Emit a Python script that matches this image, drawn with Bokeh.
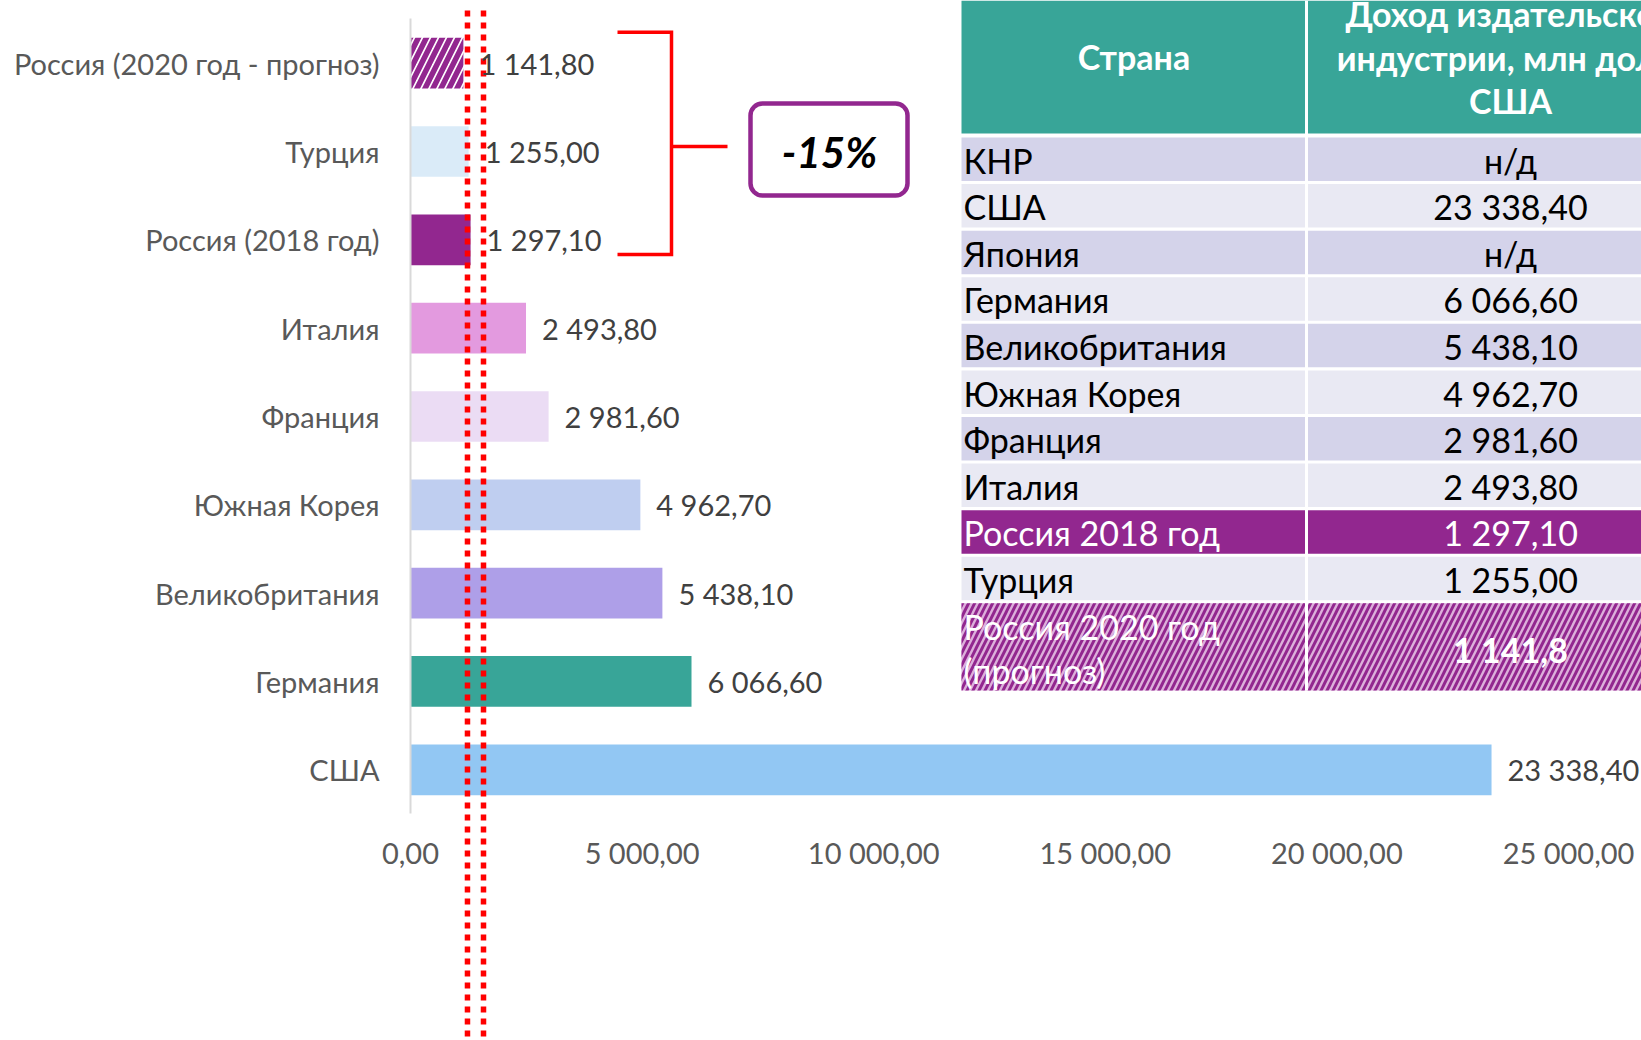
from bokeh.plotting import figure
from bokeh.models import Range1d, FixedTicker, BoxAnnotation
from bokeh.core.properties import value
from bokeh.embed import file_html
from bokeh.resources import INLINE

# ---------------- chart data (bottom -> top) ----------------
countries = ["США", "Германия", "Великобритания", "Южная Корея", "Франция",
             "Италия", "Россия (2018 год)", "Турция", "Россия (2020 год - прогноз)"]
revenue = [23338.40, 6066.60, 5438.10, 4962.70, 2981.60, 2493.80, 1297.10, 1255.00, 1141.80]
bar_colors = ["#92C7F3", "#38A598", "#AE9FE8", "#BFCEF0", "#EBDCF4",
              "#E39ADF", "#92278F", "#DAEBF8", "#FFFFFF"]
hatched = [False, False, False, False, False, False, False, False, True]
x_ticks = [0, 5000, 10000, 15000, 20000, 25000]
x_tick_labels = ["0,00", "5 000,00", "10 000,00", "15 000,00", "20 000,00", "25 000,00"]

# ---------------- table data ----------------
table_header_left = ["Страна"]
table_header_right = ["Доход издательской", "индустрии, млн долл.", "США"]
table_countries = ["КНР", "США", "Япония", "Германия", "Великобритания", "Южная Корея",
                   "Франция", "Италия", "Россия 2018 год", "Турция"]
table_values = ["н/д", "23 338,40", "н/д", "6 066,60", "5 438,10", "4 962,70",
                "2 981,60", "2 493,80", "1 297,10", "1 255,00"]
forecast_name = ["Россия 2020 год", "(прогноз)"]
forecast_value = ["1 141,8"]
change_text = ["-15%"]
marker_values = [1230, 1576]   # hand-drawn dotted reference lines

def fmt(v):
    return f"{v:,.2f}".replace(",", " ").replace(".", ",")

value_labels = [fmt(v) for v in revenue]

# ---------------- geometry ----------------
W, H = 1641, 1040
FONT = "Lato"
PX_PER_UNIT = 1158 / 25000.0
ZERO_X = 410
STEP = 88.33
BASE = 769.3
ys = list(range(len(countries)))
y_start = -(H - BASE) / STEP
y_end = BASE / STEP
axis_loc = -(812.7 - BASE) / STEP
axis_top = (BASE - 17.7) / STEP

p = figure(width=W, height=H, output_backend="svg", toolbar_location=None,
           x_range=Range1d(-ZERO_X / PX_PER_UNIT, (W - ZERO_X) / PX_PER_UNIT),
           y_range=Range1d(y_start, y_end),
           min_border_left=0, min_border_right=0,
           min_border_top=0, min_border_bottom=0)
p.extra_x_ranges = {"px": Range1d(0, W)}
p.extra_y_ranges = {"px": Range1d(H, 0)}
p.outline_line_color = None
p.xgrid.visible = False
p.ygrid.visible = False
p.background_fill_color = "white"

# bars
solid_idx = [i for i in ys if not hatched[i]]
hatch_idx = [i for i in ys if hatched[i]]
p.hbar(y=[ys[i] for i in solid_idx], left=0, right=[revenue[i] for i in solid_idx],
       height=0.574, fill_color=[bar_colors[i] for i in solid_idx], line_color=None)
p.hbar(y=[ys[i] for i in hatch_idx], left=0, right=[revenue[i] for i in hatch_idx],
       height=0.574, fill_color=[bar_colors[i] for i in hatch_idx], line_color=None,
       hatch_pattern="/", hatch_color="#92278F", hatch_scale=16, hatch_weight=5.5)

# dotted red lines
p.segment(x0=marker_values, x1=marker_values, y0=[10] * 2, y1=[1040] * 2,
          y_range_name="px", line_color="#FF0000", line_width=5.5,
          line_dash="6 6", line_cap="butt")

# value labels
p.text(x=revenue, y=ys, text=value_labels, x_offset=16, y_offset=0,
       text_align="left", text_baseline="middle", text_font=value(FONT),
       text_font_size="29px", text_color="#404040")

# axes (drawn at fixed locations inside the full-size frame)
yax = p.yaxis[0]
yax.fixed_location = 0
yax.ticker = FixedTicker(ticks=ys)
yax.major_label_overrides = {i: c for i, c in zip(ys, countries)}
yax.major_label_text_font = FONT
yax.major_label_text_font_size = "29px"
yax.major_label_text_color = "#595959"
yax.major_label_standoff = 31
yax.major_tick_out = 0
yax.major_tick_in = 0
yax.minor_tick_out = 0
yax.minor_tick_in = 0
yax.axis_line_color = "#D9D9D9"
yax.axis_line_width = 2
yax.bounds = (axis_loc, axis_top)

xax = p.xaxis[0]
xax.fixed_location = axis_loc
xax.ticker = FixedTicker(ticks=x_ticks)
xax.major_label_overrides = {t: l for t, l in zip(x_ticks, x_tick_labels)}
xax.major_label_text_font = FONT
xax.major_label_text_font_size = "29px"
xax.major_label_text_color = "#595959"
xax.major_label_standoff = 22
xax.major_tick_out = 0
xax.major_tick_in = 0
xax.minor_tick_out = 0
xax.minor_tick_in = 0
xax.axis_line_color = None

# bracket and -15% box
p.line(x=[617, 671, 671, 617], y=[31.7, 31.7, 254, 254], x_range_name="px",
       y_range_name="px", line_color="#FF0000", line_width=3.5, line_join="miter")
p.segment(x0=[671], x1=[727], y0=[146], y1=[146], x_range_name="px",
          y_range_name="px", line_color="#FF0000", line_width=3.5)
box = BoxAnnotation(left=750, right=907, top=103, bottom=195, x_range_name="px",
                    y_range_name="px", fill_color="white", fill_alpha=1,
                    line_color="#92278F", line_width=4.5, line_alpha=1, border_radius=12)
p.add_layout(box)
r = p.text(x=[829], y=[151], text=change_text, x_range_name="px", y_range_name="px",
           text_align="center", text_baseline="middle", text_font=value(FONT),
           text_font_size="42px", text_font_style="bold italic", text_color="#000000")
r.level = "overlay"

# ---------------- table ----------------
T_L, T_DIV, T_R = 961, 1306, 1714
COL2_C = 1510
ROW0 = 137.0
PITCH = 46.58
ROW_H = 43.5
p.quad(left=[T_L], right=[T_R], top=[0], bottom=[133], x_range_name="px",
       y_range_name="px", fill_color="#38A598", line_color=None)
n = len(table_countries)
tops = [ROW0 + i * PITCH for i in range(n)]
bots = [t + ROW_H for t in tops]
fills = []
for i, c in enumerate(table_countries):
    if c.startswith("Россия"):
        fills.append("#92278F")
    elif i % 2 == 0:
        fills.append("#D4D3EA")
    else:
        fills.append("#E9E9F3")
p.quad(left=[T_L] * n, right=[T_R] * n, top=tops, bottom=bots, x_range_name="px",
       y_range_name="px", fill_color=fills, line_color=None)
f_top = ROW0 + n * PITCH
p.quad(left=[T_L], right=[T_R], top=[f_top], bottom=[690], x_range_name="px",
       y_range_name="px", fill_color="#DDB0DB", line_color=None,
       hatch_pattern="/", hatch_color="#92278F", hatch_scale=12, hatch_weight=3)
p.segment(x0=[T_DIV], x1=[T_DIV], y0=[0], y1=[690], x_range_name="px",
          y_range_name="px", line_color="white", line_width=3)

# header texts
p.text(x=[(T_L + T_DIV) / 2], y=[56], text=table_header_left, x_range_name="px",
       y_range_name="px", text_align="center", text_baseline="middle",
       text_font=value(FONT), text_font_size="34px", text_font_style="bold",
       text_color="white")
p.text(x=[COL2_C] * 3, y=[13, 56.5, 100], text=table_header_right, x_range_name="px",
       y_range_name="px", text_align="center", text_baseline="middle",
       text_font=value(FONT), text_font_size="34px", text_font_style="bold",
       text_color="white")
# body texts
txt_col = ["white" if c.startswith("Россия") else "black" for c in table_countries]
centers = [(t + b) / 2 + 1 for t, b in zip(tops, bots)]
p.text(x=[T_L + 2] * n, y=centers, text=table_countries, x_range_name="px",
       y_range_name="px", text_align="left", text_baseline="middle",
       text_font=value(FONT), text_font_size="34px", text_color=txt_col)
p.text(x=[COL2_C] * n, y=centers, text=table_values, x_range_name="px",
       y_range_name="px", text_align="center", text_baseline="middle",
       text_font=value(FONT), text_font_size="34px", text_color=txt_col)
p.text(x=[T_L + 2] * 2, y=[626, 670], text=forecast_name, x_range_name="px",
       y_range_name="px", text_align="left", text_baseline="middle",
       text_font=value(FONT), text_font_size="34px", text_color="white")
p.text(x=[COL2_C], y=[649], text=forecast_value, x_range_name="px",
       y_range_name="px", text_align="center", text_baseline="middle",
       text_font=value(FONT), text_font_size="34px", text_font_style="bold",
       text_color="white")

open("out.html", "w").write(file_html(p, INLINE))
